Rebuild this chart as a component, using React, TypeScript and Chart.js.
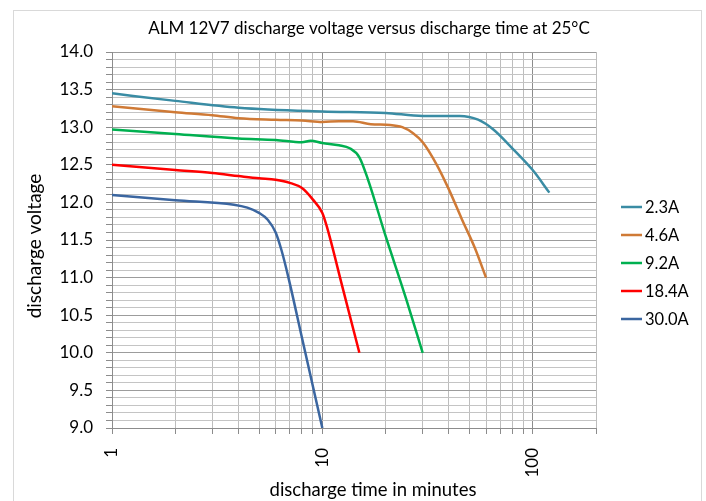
import { useEffect, useRef } from "react";
import { Chart, registerables } from "chart.js";

Chart.register(...registerables);

const chartTitle = "ALM 12V7 discharge voltage versus discharge time at 25°C";
const xTitle = "discharge time in minutes";
const yTitle = "discharge voltage";

const seriesLabels = ["2.3A", "4.6A", "9.2A", "18.4A", "30.0A"];
const seriesColors = ["#3a8ca4", "#cf7a36", "#00b050", "#ff0000", "#3b66a0"];

const time23 = [1, 2, 4, 10, 20, 30, 45, 55, 65, 80, 100, 120];
const volt23 = [13.45, 13.35, 13.26, 13.21, 13.19, 13.15, 13.15, 13.1, 12.97, 12.72, 12.43, 12.13];

const time46 = [1, 2, 3, 4, 6, 8, 10, 12, 14, 17, 21, 24, 27, 30, 35, 40, 46, 53, 60];
const volt46 = [13.28, 13.2, 13.16, 13.12, 13.1, 13.09, 13.07, 13.08, 13.08, 13.04, 13.03, 13.0, 12.92, 12.8, 12.5, 12.17, 11.78, 11.4, 11.0];

const time92 = [1, 2, 4, 6, 8, 8.8, 10, 12, 13.5, 15, 16.5, 20, 25, 30];
const volt92 = [12.97, 12.91, 12.85, 12.83, 12.8, 12.82, 12.79, 12.76, 12.72, 12.6, 12.3, 11.55, 10.72, 10.0];

const time184 = [1, 2, 3, 4, 5, 6, 7, 8, 9, 10, 10.5, 12.5, 15];
const volt184 = [12.5, 12.43, 12.39, 12.35, 12.32, 12.3, 12.26, 12.19, 12.04, 11.86, 11.68, 10.86, 10.0];

const time300 = [1, 2, 3.8, 4.4, 5, 5.5, 6, 6.4, 6.9, 8, 10];
const volt300 = [12.1, 12.03, 11.97, 11.93, 11.86, 11.77, 11.6, 11.36, 11.0, 10.2, 9.0];

const seriesTimes = [time23, time46, time92, time184, time300];
const seriesVolts = [volt23, volt46, volt92, volt184, volt300];

const xGridTicks = [1, 2, 3, 4, 5, 6, 7, 8, 9, 10, 20, 30, 40, 50, 60, 70, 80, 90, 100, 200];
const xTickLabels = [1, 10, 100];
const xMin = 1;
const xMax = 200;
const yMin = 9;
const yMax = 14;
const yStep = 0.1;

const FONT = "Lato, 'Open Sans', sans-serif";

export default function App() {
  const ref = useRef<HTMLCanvasElement | null>(null);

  useEffect(() => {
    const canvas = ref.current;
    if (!canvas) return;

    const decor = {
      id: "decor",
      beforeDraw(chart: any) {
        const ctx = chart.ctx;
        ctx.save();
        ctx.fillStyle = "#ffffff";
        ctx.fillRect(0, 0, chart.width, chart.height);
        ctx.strokeStyle = "#d9d9d9";
        ctx.lineWidth = 1;
        ctx.strokeRect(13.5, 10.5, 688, 500);
        ctx.restore();
      },
      afterDraw(chart: any) {
        const ctx = chart.ctx;
        ctx.save();
        ctx.fillStyle = "#000000";
        ctx.textBaseline = "middle";
        ctx.textAlign = "center";
        ctx.font = `17px ${FONT}`;
        ctx.fillText(chartTitle, 369, 29);
        ctx.font = `18.5px ${FONT}`;
        ctx.fillText(xTitle, 373, 490);
        ctx.save();
        ctx.translate(35, 246);
        ctx.rotate(-Math.PI / 2);
        ctx.font = `19px ${FONT}`;
        ctx.fillText(yTitle, 0, 0);
        ctx.restore();
        ctx.textAlign = "left";
        ctx.font = `16.5px ${FONT}`;
        chart.data.datasets.forEach((ds: any, i: number) => {
          const y = 207 + i * 28;
          ctx.strokeStyle = ds.borderColor;
          ctx.lineWidth = 2.5;
          ctx.beginPath();
          ctx.moveTo(621, y);
          ctx.lineTo(642, y);
          ctx.stroke();
          ctx.fillStyle = "#000000";
          ctx.fillText(ds.label, 645, y + 1);
        });
        ctx.restore();
      },
    };

    const datasets = seriesLabels.map((label, i) => ({
      label,
      data: seriesTimes[i].map((t, j) => ({ x: t, y: seriesVolts[i][j] })),
      borderColor: seriesColors[i],
      backgroundColor: seriesColors[i],
      borderWidth: 2.5,
      pointRadius: 0,
      fill: false,
      cubicInterpolationMode: "monotone" as const,
      borderCapStyle: "butt" as const,
      borderJoinStyle: "round" as const,
    }));

    const chart = new Chart(canvas, {
      type: "line",
      data: { datasets },
      options: {
        animation: false,
        responsive: false,
        maintainAspectRatio: false,
        layout: { padding: { left: 0, top: 52, right: 110, bottom: 0 } },
        plugins: {
          legend: { display: false },
          title: { display: false },
          tooltip: { enabled: false },
        },
        scales: {
          x: {
            type: "logarithmic",
            min: xMin,
            max: xMax,
            afterFit: (s: any) => {
              s.height = 73;
            },
            afterBuildTicks: (s: any) => {
              s.ticks = xGridTicks.map((v) => ({ value: v }));
            },
            border: { display: true, color: "#8c8c8c", width: 1 },
            grid: {
              color: (c: any) => {
                const v = c.tick ? c.tick.value : 0;
                return v === 1 || v === 10 || v === 100 ? "#8c8c8c" : "#bdbdbd";
              },
              tickColor: "#8c8c8c",
              tickLength: 6,
              lineWidth: 1,
            },
            ticks: {
              autoSkip: false,
              minRotation: 90,
              maxRotation: 90,
              padding: 14,
              color: "#000000",
              font: { family: FONT, size: 17 },
              callback: (v: any) => (xTickLabels.includes(Number(v)) ? String(v) : ""),
            },
          },
          y: {
            type: "linear",
            min: yMin,
            max: yMax,
            afterFit: (s: any) => {
              s.width = 112;
            },
            border: { display: true, color: "#8c8c8c", width: 1 },
            grid: {
              color: (c: any) => {
                const v = c.tick ? c.tick.value : 0;
                return Math.round(v * 10) % 5 === 0 ? "#9c9c9c" : "#c4c4c4";
              },
              tickColor: "#8c8c8c",
              tickLength: 6,
              lineWidth: 1,
            },
            ticks: {
              stepSize: yStep,
              autoSkip: false,
              padding: 13,
              color: "#000000",
              font: { family: FONT, size: 17 },
              callback: (v: any) => (Math.round(Number(v) * 10) % 5 === 0 ? Number(v).toFixed(1) : ""),
            },
          },
        },
      },
      plugins: [decor],
    });

    return () => chart.destroy();
  }, []);

  return (
    <div style={{ position: "absolute", left: 0, top: 0, width: 706, height: 501 }}>
      <canvas ref={ref} width={706} height={501} style={{ width: 706, height: 501, display: "block" }} />
    </div>
  );
}
